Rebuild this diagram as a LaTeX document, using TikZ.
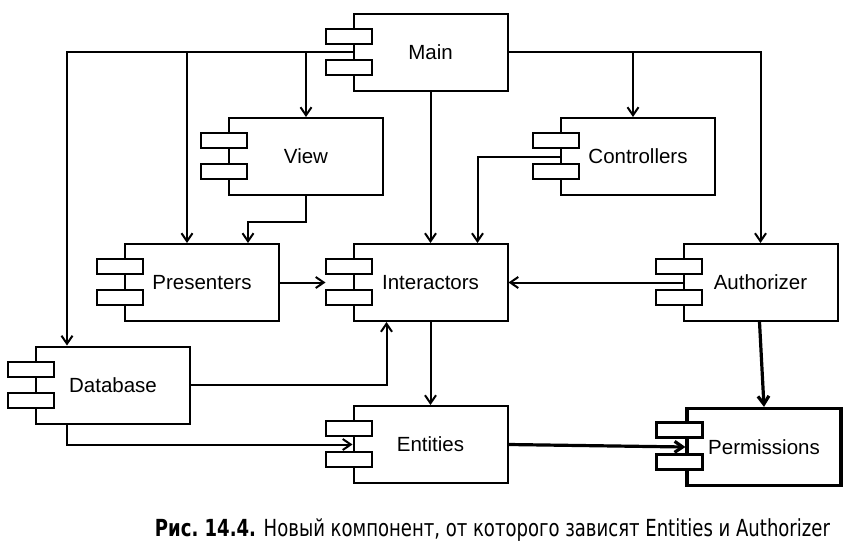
\documentclass[tikz,border=0pt]{standalone}
\usepackage{fontspec}
\setmainfont{Liberation Sans}
\newfontfamily\capfont{DejaVu Sans Condensed}
\usetikzlibrary{arrows.meta}

\tikzset{
    comp/.style={draw, line width=2pt, fill=white, inner sep=0pt,
        minimum width=154pt, minimum height=77pt,
        font=\fontsize{20.5}{24}\selectfont},
    port/.style={draw, line width=2pt, fill=white, inner sep=0pt,
        minimum width=46pt, minimum height=15pt},
    dep/.style={line width=2pt, -{Straight Barb[length=8pt,width=11pt]}},
}

\begin{document}
\begin{tikzpicture}[x=1pt, y=-1pt]

    \useasboundingbox (0,0) rectangle (851,549);

    % The components (pixel grid of the figure, y going down)
    \node[comp] (main)        at (430.5,52)  {Main};
    \node[comp] (view)        at (306,156.5) {View};
    \node[comp] (controllers) at (638,156.5) {Controllers};
    \node[comp] (presenters)  at (202,282.5) {Presenters};
    \node[comp] (interactors) at (430.5,282.5) {Interactors};
    \node[comp] (authorizer)  at (760.5,282.5) {Authorizer};
    \node[comp] (database)    at (113,385)   {Database};
    \node[comp] (entities)    at (430.5,444.5) {Entities};
    \node[comp, line width=3.2pt] (permissions) at (764,447) {Permissions};

    % The two little tabs on the left side of each component
    \foreach \c in {main,view,controllers,presenters,interactors,authorizer,database,entities} {
        \node[port] at ([xshift=-4pt,yshift=16pt]\c.west) {};
        \node[port] at ([xshift=-4pt,yshift=-15pt]\c.west) {};
    }
    \node[port, line width=2.8pt] at ([xshift=-6pt,yshift=17pt]permissions.west) {};
    \node[port, line width=2.8pt] at ([xshift=-6pt,yshift=-15pt]permissions.west) {};

    % Main depends on everything
    \draw[dep] (main.west) -| ([xshift=32pt]database.north west);
    \draw[dep] (main.west) -| ([xshift=-15pt]presenters.north);
    \draw[dep] (main.west) -| (view.north);
    \draw[dep] (main.south) -- (interactors.north);
    \draw[dep] (main.east) -| ([xshift=-5pt]controllers.north);
    \draw[dep] (main.east) -| (authorizer.north);

    % The middle layer
    \coordinate (viewturn) at ([yshift=-26pt]view.south);
    \draw[dep] (view.south) -- (viewturn) -| ([xshift=46pt]presenters.north);
    \draw[dep] (controllers.west) -| ([xshift=47pt]interactors.north);
    \draw[dep] (presenters.east) -- ([xshift=-27pt]interactors.west);
    \draw[dep] (authorizer.west) -- (interactors.east);
    \draw[dep] (database.east) -| ([xshift=34pt]interactors.south west);
    \draw[dep] (interactors.south) -- (entities.north);
    \draw[dep] ([xshift=32pt]database.south west) |- (entities.west);

    % The new component
    \draw[dep, line width=3.2pt] (entities.east) -- (permissions.west);
    \draw[dep, line width=3.2pt] ([xshift=-1pt]authorizer.south) -- (permissions.north);

    \node[anchor=base, inner sep=0pt, font=\capfont\fontsize{23.5}{27}\selectfont] (caption) at (492.5,536)
        {\resizebox{675pt}{\height}{\textbf{Рис.~14.4.} Новый компонент, от которого зависят Entities и Authorizer}};

\end{tikzpicture}
\end{document}
